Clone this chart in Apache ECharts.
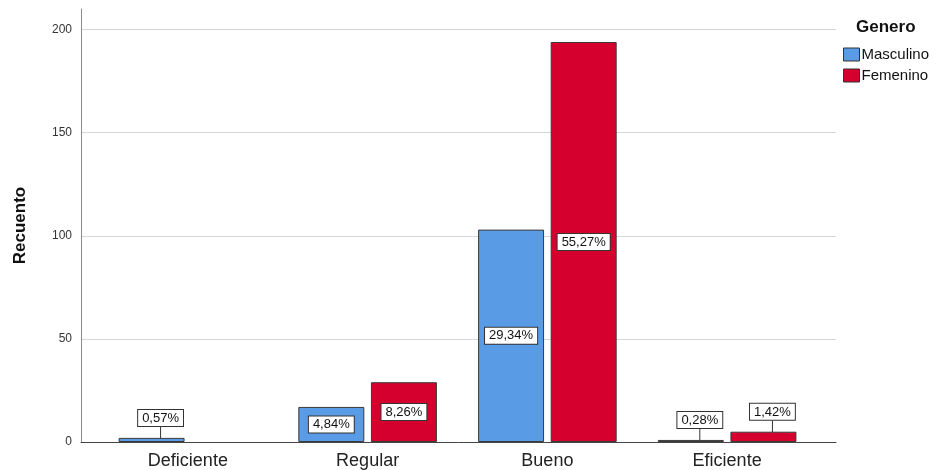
<!DOCTYPE html>
<html>
<head>
<meta charset="utf-8">
<script src="https://cdn.jsdelivr.net/npm/echarts@6/dist/echarts.min.js"></script>
<style>
  html, body { margin: 0; padding: 0; background: #fff; }
  #chart { width: 940px; height: 470px; }
</style>
</head>
<body>
<div id="chart"></div>
<script>
// datos
var categorias = ["Deficiente", "Regular", "Bueno", "Eficiente"];
var masculino = [2, 17, 103, 1];
var femenino = [0, 29, 194, 5];
var pctMasculino = ["0,57%", "4,84%", "29,34%", "0,28%"];
var pctFemenino = ["", "8,26%", "55,27%", "1,42%"];
var yTicks = [0, 50, 100, 150, 200];

var FONT = "Liberation Sans, Arial, sans-serif";
var gris = "#d6d6d6";

// etiqueta tipo caja blanca (como SPSS)
function caja(valor) {
  var chica = valor < 10;
  return {
    show: valor > 0,
    position: chica ? "top" : "inside",
    distance: 12,
    color: "#111",
    fontFamily: FONT,
    fontSize: 13,
    backgroundColor: "#fff",
    borderColor: "#333",
    borderWidth: 1,
    padding: [2, 4, 1, 4]
  };
}

function datos(valores) {
  return valores.map(function (v) {
    var item = { value: v, label: caja(v) };
    // sin barra cuando el recuento es 0
    if (v === 0) item.itemStyle = { borderWidth: 0, opacity: 0 };
    return item;
  });
}

function serie(nombre, valores, pcts, color) {
  return {
    name: nombre,
    type: "bar",
    xAxisIndex: 1,
    yAxisIndex: 1,
    barWidth: 66,
    barGap: "10%",
    data: datos(valores),
    itemStyle: { color: color, borderColor: "#3a3a3a", borderWidth: 1 },
    label: {
      formatter: function (p) { return pcts[p.dataIndex]; }
    },
    labelLine: { show: true, lineStyle: { color: "#333", width: 1 } },
    labelLayout: function (p) {
      return valores[p.dataIndex] < 10 ? { dx: 9 } : {};
    },
    emphasis: { disabled: true }
  };
}

var chart = echarts.init(document.getElementById("chart"));
var option = {
  animation: false,
  backgroundColor: "#fff",
  title: {
    text: "Genero",
    left: 851,
    top: 14,
    textStyle: { fontFamily: FONT, fontSize: 17, fontWeight: "bold", color: "#111" }
  },
  legend: {
    orient: "vertical",
    left: 838,
    top: 42,
    itemWidth: 16,
    itemHeight: 13,
    itemGap: 6,
    icon: "rect",
    textStyle: { fontFamily: FONT, fontSize: 15, color: "#111", padding: [0, 0, 0, -3] },
    data: [
      { name: "Masculino", itemStyle: { borderColor: "#333", borderWidth: 1 } },
      { name: "Femenino", itemStyle: { borderColor: "#333", borderWidth: 1 } }
    ]
  },
  grid: [
    { left: 81, right: 104, top: 9, bottom: 28 },
    { left: 98, right: 123, top: 9, bottom: 28 }
  ],
  xAxis: [
    {
      gridIndex: 0, type: "value", min: 0, max: 1,
      axisLine: { show: true, lineStyle: { color: "#444", width: 1 } },
      axisTick: { show: false }, axisLabel: { show: false }, splitLine: { show: false }
    },
    {
      gridIndex: 1, type: "category", data: categorias,
      axisLine: { show: false }, axisTick: { show: false },
      axisLabel: { margin: 10, fontFamily: FONT, fontSize: 18, color: "#222" }
    }
  ],
  yAxis: [
    {
      gridIndex: 0, type: "value", min: 0, max: 210, interval: 50,
      name: "Recuento",
      nameLocation: "middle",
      nameGap: 52,
      nameTextStyle: { fontFamily: FONT, fontSize: 17, fontWeight: "bold", color: "#111" },
      axisLine: { show: true, lineStyle: { color: "#8c8c8c", width: 1 } },
      axisTick: { show: false },
      axisLabel: {
        margin: 9, fontFamily: FONT, fontSize: 12, color: "#333",
        showMaxLabel: false,
        formatter: function (v) { return yTicks.indexOf(v) >= 0 ? String(v) : ""; }
      },
      splitLine: {
        show: true,
        lineStyle: { color: [gris, gris, gris, gris, gris, "rgba(0,0,0,0)"], width: 1 }
      }
    },
    {
      gridIndex: 1, type: "value", min: 0, max: 210, interval: 50,
      show: false, splitLine: { show: false }
    }
  ],
  series: [
    serie("Masculino", masculino, pctMasculino, "#5a9be5"),
    serie("Femenino", femenino, pctFemenino, "#d6002f")
  ]
};
chart.setOption(option);
</script>
</body>
</html>
